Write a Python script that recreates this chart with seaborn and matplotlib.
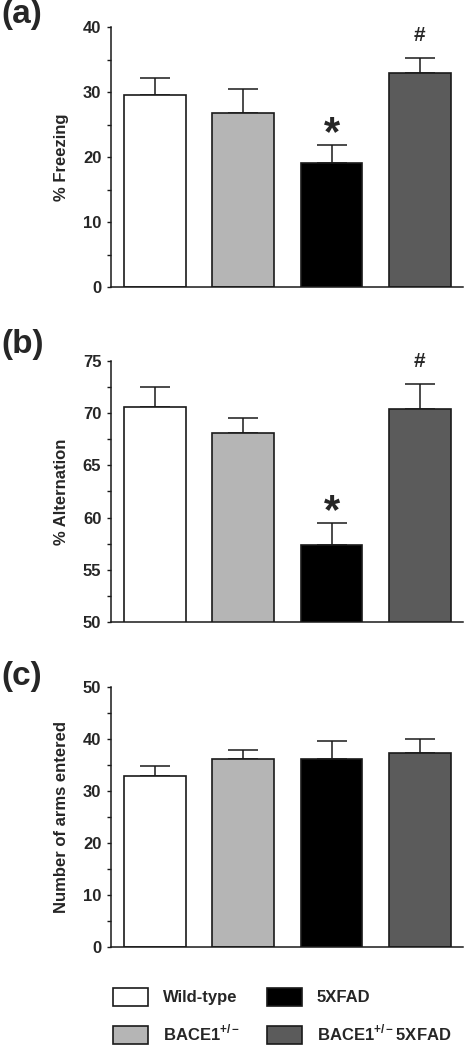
import matplotlib
matplotlib.use("Agg")
import matplotlib.pyplot as plt
import seaborn as sns
import pandas as pd
from matplotlib.patches import Patch
from matplotlib.ticker import MultipleLocator

sns.set_style("ticks")
plt.rcParams['font.family'] = ['Liberation Sans', 'DejaVu Sans']
plt.rcParams['font.weight'] = 'bold'
plt.rcParams['mathtext.fontset'] = 'custom'
plt.rcParams['mathtext.rm'] = 'Liberation Sans:bold'
plt.rcParams['mathtext.bf'] = 'Liberation Sans:bold'

groups = ["Wild-type", "BACE1+/-", "5XFAD", "BACE1+/- 5XFAD"]
legend_labels = ["Wild-type", r"BACE1$^{+/-}$", "5XFAD", r"BACE1$^{+/-}$5XFAD"]
colors = ["#ffffff", "#b5b5b5", "#000000", "#5b5b5b"]

freezing_mean = [29.6, 26.7, 19.1, 33.0]
freezing_sem = [2.6, 3.8, 2.8, 2.3]
alternation_mean = [70.6, 68.1, 57.4, 70.4]
alternation_sem = [1.9, 1.4, 2.1, 2.4]
arms_mean = [32.9, 36.2, 36.2, 37.3]
arms_sem = [2.0, 1.7, 3.5, 2.7]

panels = [
    dict(tag="(a)", ylabel="% Freezing", mean=freezing_mean, sem=freezing_sem,
         ylim=(0, 40), major=10, minor=5, marks={2: "*", 3: "#"}),
    dict(tag="(b)", ylabel="% Alternation", mean=alternation_mean, sem=alternation_sem,
         ylim=(50, 75), major=5, minor=2.5, marks={2: "*", 3: "#"}),
    dict(tag="(c)", ylabel="Number of arms entered", mean=arms_mean, sem=arms_sem,
         ylim=(0, 50), major=10, minor=5, marks={}),
]

W, H = 474, 1050
fig = plt.figure(figsize=(W / 100, H / 100), dpi=100)

axes_px = [(27, 287), (361, 622), (687, 947)]
tag_px = [15, 344, 677]
left_px, right_px = 111, 463

for p, (top, bot), tagy in zip(panels, axes_px, tag_px):
    ax = fig.add_axes([left_px / W, 1 - bot / H, (right_px - left_px) / W, (bot - top) / H])
    df = pd.DataFrame({"group": groups, "value": p["mean"]})
    sns.barplot(data=df, x="group", y="value", hue="group", order=groups,
                hue_order=groups, palette=colors, errorbar=None, width=0.7,
                edgecolor="#1a1a1a", linewidth=1.2, legend=False, ax=ax, zorder=2)
    ax.errorbar(range(len(groups)), p["mean"], yerr=[[0] * 4, p["sem"]],
                fmt="none", ecolor="#1a1a1a", elinewidth=1.1, capsize=10.5,
                capthick=1.1, zorder=1)
    ax.set_ylim(*p["ylim"])
    ax.set_xlim(-0.5, 3.49)
    ax.yaxis.set_major_locator(MultipleLocator(p["major"]))
    ax.yaxis.set_minor_locator(MultipleLocator(p["minor"]))
    ax.tick_params(axis="y", which="both", direction="out", length=3, width=1,
                   labelsize=12, color="#1a1a1a", pad=4)
    ax.tick_params(axis="x", bottom=False, labelbottom=False)
    for lbl in ax.get_yticklabels():
        lbl.set_fontweight("bold")
    ax.set_xlabel("")
    ax.set_ylabel(p["ylabel"], fontsize=12, fontweight="bold")
    ax.yaxis.set_label_coords(-0.12, 0.5)
    for s in ["top", "right"]:
        ax.spines[s].set_visible(False)
    for s in ["left", "bottom"]:
        ax.spines[s].set_linewidth(1.1)
        ax.spines[s].set_color("#1a1a1a")
    for i, m in p["marks"].items():
        ytop = p["mean"][i] + p["sem"][i]
        if m == "*":
            ax.annotate("*", (i, ytop), xytext=(0, -7), textcoords="offset points",
                        ha="center", va="bottom", fontsize=30, fontweight="bold")
        else:
            ax.annotate("#", (i, ytop), xytext=(0, 9), textcoords="offset points",
                        ha="center", va="bottom", fontsize=15, fontweight="bold")
    fig.text(1 / W, 1 - tagy / H, p["tag"], ha="left", va="center",
             fontsize=24, fontweight="bold")

handles = [Patch(facecolor=c, edgecolor="#1a1a1a", linewidth=1.2) for c in colors]
fig.legend(handles, legend_labels, loc="upper left",
           bbox_to_anchor=(113 / W, 1 - 988 / H), ncol=2, frameon=False,
           borderpad=0, borderaxespad=0, handlelength=2.1, handleheight=1.26,
           handletextpad=0.9, columnspacing=1.6, labelspacing=1.05,
           prop={"weight": "bold", "size": 12})

fig.savefig("out.png", dpi=100)
